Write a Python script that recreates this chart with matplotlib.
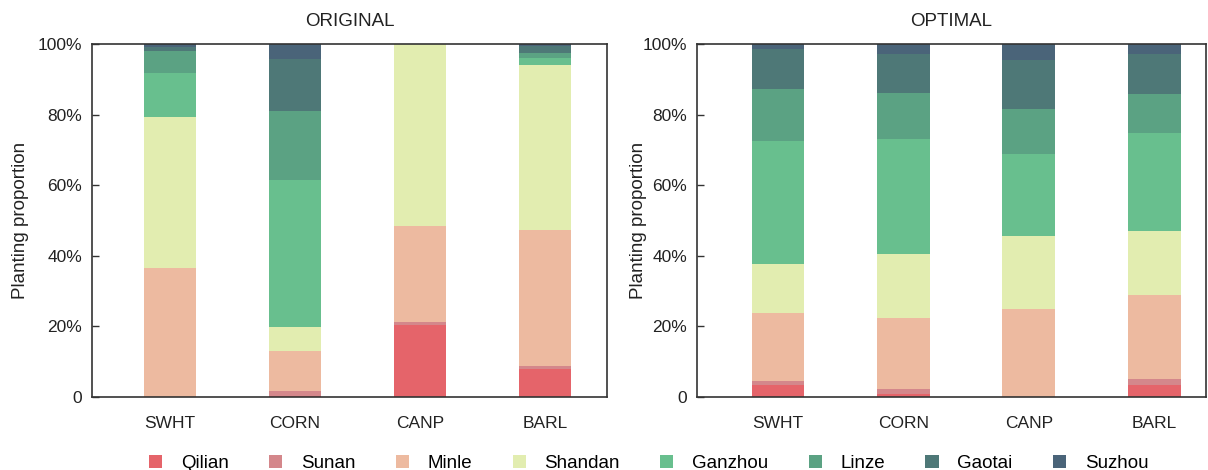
import matplotlib.pyplot as plt
import numpy as np

plt.rcParams['font.family'] = ['Liberation Sans', 'DejaVu Sans']

crops = ['SWHT', 'CORN', 'CANP', 'BARL']
regions = ['Qilian', 'Sunan', 'Minle', 'Shandan', 'Ganzhou', 'Linze', 'Gaotai', 'Suzhou']
colors = ['#E5646A', '#D4878B', '#EDBAA0', '#E2EDB0', '#68BF8E', '#5BA283', '#4E7877', '#4A6479']

# proportions (%) per region, order SWHT, CORN, CANP, BARL
original = {
    'Qilian':  [0.0, 0.3, 20.3, 7.9],
    'Sunan':   [0.0, 1.3, 0.9, 0.9],
    'Minle':   [36.6, 11.5, 27.2, 38.4],
    'Shandan': [42.7, 6.7, 51.6, 47.0],
    'Ganzhou': [12.6, 41.7, 0.0, 1.8],
    'Linze':   [6.2, 19.5, 0.0, 1.6],
    'Gaotai':  [1.0, 14.9, 0.0, 1.9],
    'Suzhou':  [0.9, 4.1, 0.0, 0.5],
}
optimal = {
    'Qilian':  [3.3, 0.9, 0.0, 3.3],
    'Sunan':   [1.3, 1.5, 0.0, 1.9],
    'Minle':   [19.1, 20.0, 24.9, 23.8],
    'Shandan': [13.9, 18.0, 20.7, 17.9],
    'Ganzhou': [34.9, 32.6, 23.2, 27.8],
    'Linze':   [14.7, 13.2, 12.8, 11.2],
    'Gaotai':  [11.4, 11.0, 14.0, 11.3],
    'Suzhou':  [1.4, 2.8, 4.4, 2.8],
}

fig = plt.figure(figsize=(12.08, 4.70), dpi=100)
ax1 = fig.add_axes([0.0762, 0.1553, 0.4263, 0.751])
ax2 = fig.add_axes([0.577, 0.1553, 0.421, 0.751])

x = np.arange(len(crops))
spine_c = '#333333'
txt_c = '#222222'

for ax, data, title, xl, lp in [(ax1, original, 'ORIGINAL', (-0.624, 3.496), 6),
                                (ax2, optimal, 'OPTIMAL', (-0.645, 3.41), -3)]:
    bottom = np.zeros(len(crops))
    for reg, col in zip(regions, colors):
        vals = np.array(data[reg]) / 100.0
        ax.bar(x, vals, 0.42, bottom=bottom, color=col, label=reg, linewidth=0)
        bottom += vals
    ax.set_xlim(*xl)
    ax.set_ylim(0, 1)
    ax.set_xticks(x)
    ax.set_xticklabels(crops, fontsize=12.5)
    ax.set_yticks([0, 0.2, 0.4, 0.6, 0.8, 1.0])
    ax.set_yticklabels(['0', '20%', '40%', '60%', '80%', '100%'], fontsize=12.5)
    ax.tick_params(axis='x', length=0, pad=14, colors=txt_c)
    ax.tick_params(axis='y', direction='in', length=5, width=1, pad=7,
                   color=spine_c, labelcolor=txt_c)
    for s in ax.spines.values():
        s.set_color(spine_c)
        s.set_linewidth(1.2)
    ax.set_title(title, fontsize=13.5, pad=13, color=txt_c)
    ax.set_ylabel('Planting proportion', fontsize=13.5, color=txt_c, labelpad=lp)

handles, labels = ax1.get_legend_handles_labels()
fig.legend(handles, labels, loc='lower center', ncol=8, frameon=False, fontsize=13.5,
           bbox_to_anchor=(0.537, -0.04), handlelength=0.7, handleheight=0.7,
           columnspacing=2.15, handletextpad=1.0)

fig.savefig('out.png', dpi=100)
